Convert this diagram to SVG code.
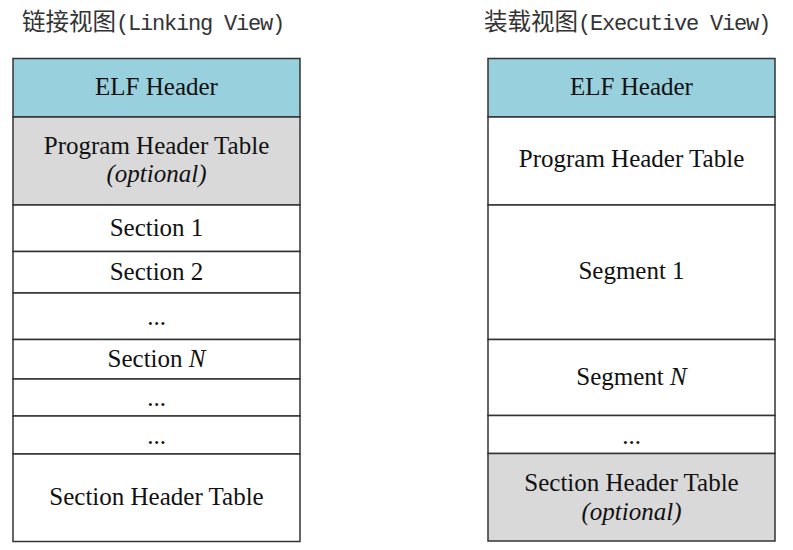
<svg xmlns="http://www.w3.org/2000/svg" width="793" height="550" viewBox="0 0 793 550">
<style>
.cell{stroke:#333;stroke-width:1.5}
.w{fill:#fff}.b{fill:#99d0dd}.g{fill:#d9d9d9}
.t{font-family:"Liberation Serif","Times New Roman",serif;font-size:25px;fill:#111;text-anchor:middle}
.i{font-style:italic}
.ttl{font-size:20px;fill:#333}
.cjk{font-family:"Noto Sans CJK SC",sans-serif;font-size:23.5px}
.mono{font-family:"Liberation Mono",monospace;font-size:22px;letter-spacing:-1.2px}
</style>
<rect width="793" height="550" fill="#fff"/>
<g id="title-left"><text class="ttl" x="22" y="30"><tspan class="cjk">链接视图</tspan><tspan class="mono">(Linking View)</tspan></text></g>
<g id="title-right"><text class="ttl" x="484" y="30"><tspan class="cjk">装载视图</tspan><tspan class="mono">(Executive View)</tspan></text></g>
<g id="linking-view">
<g id="l-elf"><rect class="cell b" x="13" y="58.5" width="287" height="58.5"/><text class="t" x="156.5" y="95">ELF Header</text></g>
<g id="l-pht"><rect class="cell g" x="13" y="117" width="287" height="88"/><text class="t" x="156.5" y="154">Program Header Table</text><text class="t i" x="156.5" y="182">(optional)</text></g>
<g id="l-s1"><rect class="cell w" x="13" y="205" width="287" height="46.5"/><text class="t" x="156.5" y="236">Section 1</text></g>
<g id="l-s2"><rect class="cell w" x="13" y="251.5" width="287" height="41.5"/><text class="t" x="156.5" y="280">Section 2</text></g>
<g id="l-d1"><rect class="cell w" x="13" y="293" width="287" height="46.5"/><text class="t" x="156.5" y="325">...</text></g>
<g id="l-sn"><rect class="cell w" x="13" y="339.5" width="287" height="39.5"/><text class="t" x="156.5" y="367">Section <tspan class="i">N</tspan></text></g>
<g id="l-d2"><rect class="cell w" x="13" y="379" width="287" height="37"/><text class="t" x="156.5" y="406">...</text></g>
<g id="l-d3"><rect class="cell w" x="13" y="416" width="287" height="38"/><text class="t" x="156.5" y="444">...</text></g>
<g id="l-sht"><rect class="cell w" x="13" y="454" width="287" height="87.5"/><text class="t" x="156.5" y="505">Section Header Table</text></g>
</g>
<g id="executive-view">
<g id="r-elf"><rect class="cell b" x="488" y="58.5" width="287" height="58.5"/><text class="t" x="631.5" y="95">ELF Header</text></g>
<g id="r-pht"><rect class="cell w" x="488" y="117" width="287" height="88"/><text class="t" x="631.5" y="167">Program Header Table</text></g>
<g id="r-seg1"><rect class="cell w" x="488" y="205" width="287" height="134.5"/><text class="t" x="631.5" y="279">Segment 1</text></g>
<g id="r-segn"><rect class="cell w" x="488" y="339.5" width="287" height="76"/><text class="t" x="631.5" y="385">Segment <tspan class="i">N</tspan></text></g>
<g id="r-d1"><rect class="cell w" x="488" y="415.5" width="287" height="38"/><text class="t" x="631.5" y="444">...</text></g>
<g id="r-sht"><rect class="cell g" x="488" y="453.5" width="287" height="87.5"/><text class="t" x="631.5" y="491">Section Header Table</text><text class="t i" x="631.5" y="520">(optional)</text></g>
</g>
<g id="connectors"></g>
</svg>
